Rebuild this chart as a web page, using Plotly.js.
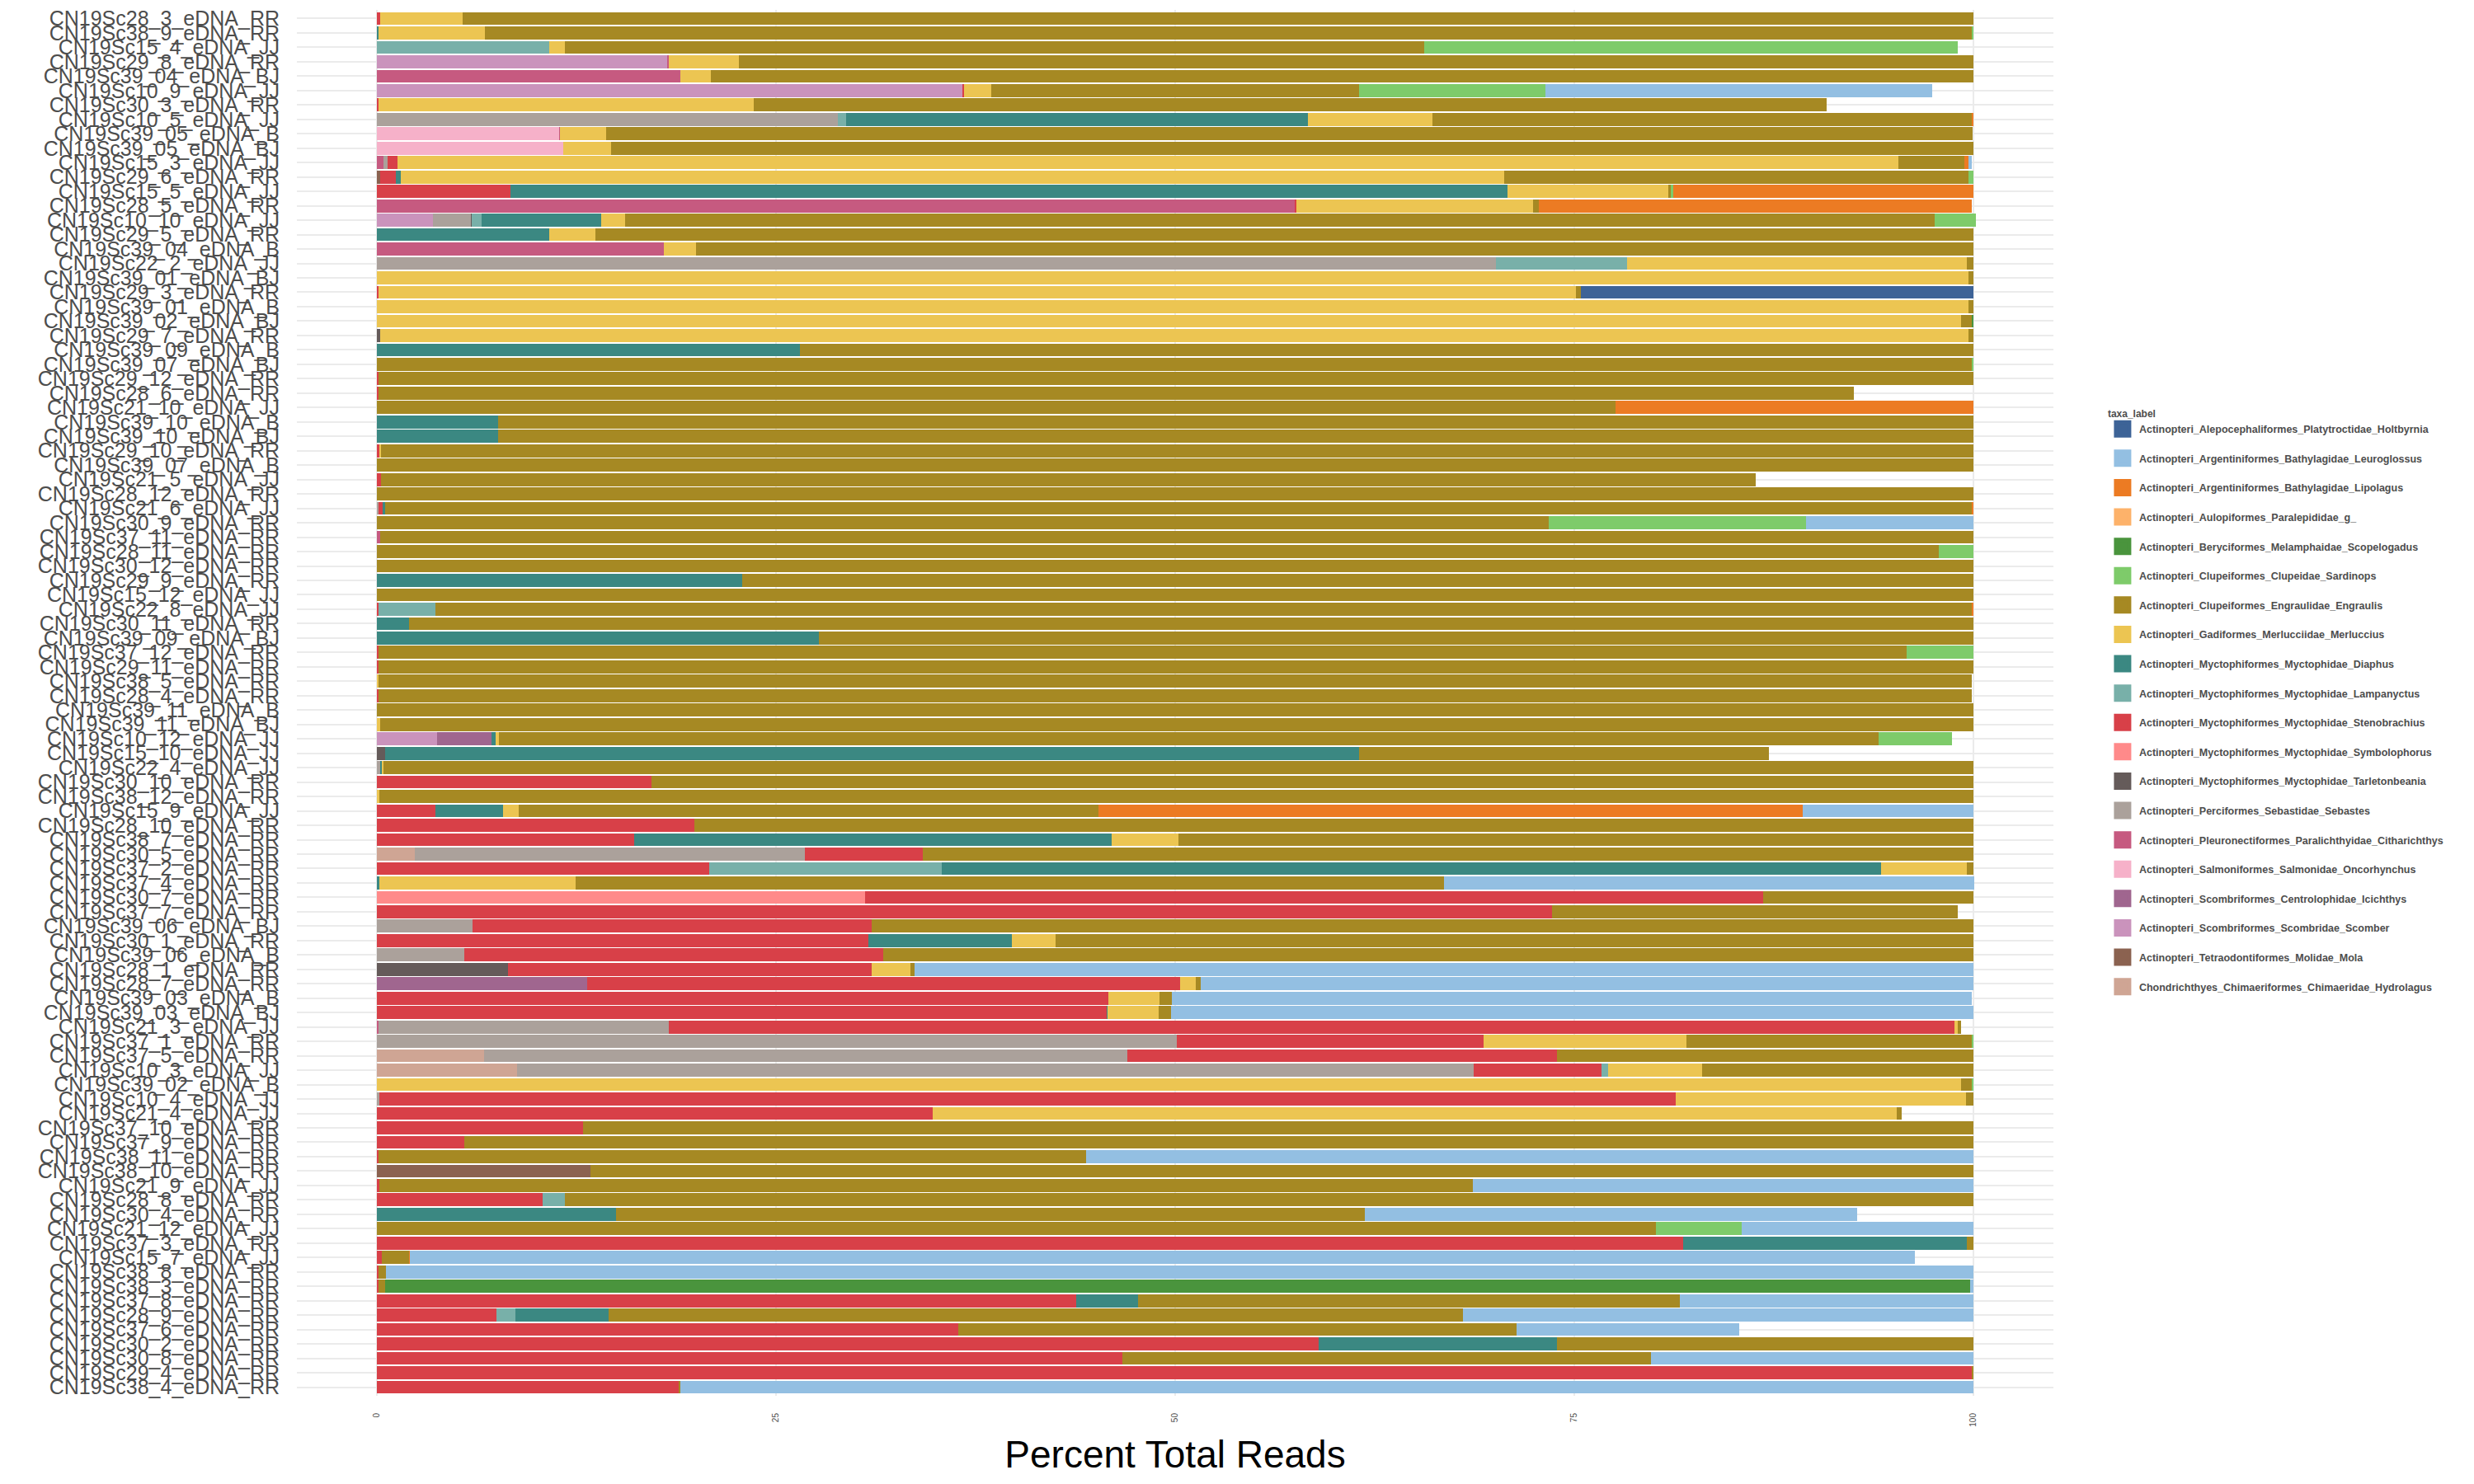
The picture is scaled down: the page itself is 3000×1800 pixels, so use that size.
<!DOCTYPE html>
<html>
<head>
<meta charset="utf-8">
<script src="https://cdn.plot.ly/plotly-3.0.1.min.js"></script>
<style>html,body{margin:0;padding:0;background:#fff;}#chart{width:3000px;height:1800px;}</style>
</head>
<body>
<div id="chart"></div>
<script>
// Sample labels, top to bottom
const samples = [
"CN19Sc28_3_eDNA_RR","CN19Sc38_9_eDNA_RR","CN19Sc15_4_eDNA_JJ","CN19Sc29_8_eDNA_RR","CN19Sc39_04_eDNA_BJ","CN19Sc10_9_eDNA_JJ","CN19Sc30_3_eDNA_RR","CN19Sc10_5_eDNA_JJ","CN19Sc39_05_eDNA_B","CN19Sc39_05_eDNA_BJ","CN19Sc15_3_eDNA_JJ","CN19Sc29_6_eDNA_RR",
"CN19Sc15_5_eDNA_JJ","CN19Sc28_5_eDNA_RR","CN19Sc10_10_eDNA_JJ","CN19Sc29_5_eDNA_RR","CN19Sc39_04_eDNA_B","CN19Sc22_2_eDNA_JJ","CN19Sc39_01_eDNA_BJ","CN19Sc29_3_eDNA_RR","CN19Sc39_01_eDNA_B","CN19Sc39_02_eDNA_BJ","CN19Sc29_7_eDNA_RR","CN19Sc39_09_eDNA_B",
"CN19Sc39_07_eDNA_BJ","CN19Sc29_12_eDNA_RR","CN19Sc28_6_eDNA_RR","CN19Sc21_10_eDNA_JJ","CN19Sc39_10_eDNA_B","CN19Sc39_10_eDNA_BJ","CN19Sc29_10_eDNA_RR","CN19Sc39_07_eDNA_B","CN19Sc21_5_eDNA_JJ","CN19Sc28_12_eDNA_RR","CN19Sc21_6_eDNA_JJ","CN19Sc30_9_eDNA_RR",
"CN19Sc37_11_eDNA_RR","CN19Sc28_11_eDNA_RR","CN19Sc30_12_eDNA_RR","CN19Sc29_9_eDNA_RR","CN19Sc15_12_eDNA_JJ","CN19Sc22_8_eDNA_JJ","CN19Sc30_11_eDNA_RR","CN19Sc39_09_eDNA_BJ","CN19Sc37_12_eDNA_RR","CN19Sc29_11_eDNA_RR","CN19Sc38_5_eDNA_RR","CN19Sc28_4_eDNA_RR",
"CN19Sc39_11_eDNA_B","CN19Sc39_11_eDNA_BJ","CN19Sc10_12_eDNA_JJ","CN19Sc15_10_eDNA_JJ","CN19Sc22_4_eDNA_JJ","CN19Sc30_10_eDNA_RR","CN19Sc38_12_eDNA_RR","CN19Sc15_9_eDNA_JJ","CN19Sc28_10_eDNA_RR","CN19Sc38_7_eDNA_RR","CN19Sc30_5_eDNA_RR","CN19Sc37_2_eDNA_RR",
"CN19Sc37_4_eDNA_RR","CN19Sc30_7_eDNA_RR","CN19Sc37_7_eDNA_RR","CN19Sc39_06_eDNA_BJ","CN19Sc30_1_eDNA_RR","CN19Sc39_06_eDNA_B","CN19Sc28_1_eDNA_RR","CN19Sc28_7_eDNA_RR","CN19Sc39_03_eDNA_B","CN19Sc39_03_eDNA_BJ","CN19Sc21_3_eDNA_JJ","CN19Sc37_1_eDNA_RR",
"CN19Sc37_5_eDNA_RR","CN19Sc10_3_eDNA_JJ","CN19Sc39_02_eDNA_B","CN19Sc10_4_eDNA_JJ","CN19Sc21_4_eDNA_JJ","CN19Sc37_10_eDNA_RR","CN19Sc37_9_eDNA_RR","CN19Sc38_11_eDNA_RR","CN19Sc38_10_eDNA_RR","CN19Sc21_9_eDNA_JJ","CN19Sc28_8_eDNA_RR","CN19Sc30_4_eDNA_RR",
"CN19Sc21_12_eDNA_JJ","CN19Sc37_3_eDNA_RR","CN19Sc15_7_eDNA_JJ","CN19Sc38_8_eDNA_RR","CN19Sc38_3_eDNA_RR","CN19Sc37_8_eDNA_RR","CN19Sc28_9_eDNA_RR","CN19Sc37_6_eDNA_RR","CN19Sc30_2_eDNA_RR","CN19Sc30_8_eDNA_RR","CN19Sc29_4_eDNA_RR","CN19Sc38_4_eDNA_RR"
];

// Percent total reads per taxon, one value per sample (same order as samples)
const holtbyrnia = [0,0,0,0,0,0,0,0,0,0,0,0, 0,0,0,0,0,0,0,24.6,0,0,0,0, 0,0,0,0,0,0,0,0,0,0,0,0, 0,0,0,0,0,0,0,0,0,0,0,0, 0,0,0,0,0,0,0,0,0,0,0,0, 0,0,0,0,0,0,0,0,0,0,0,0, 0,0,0,0,0,0,0,0,0,0,0,0, 0,0,0,0,0,0,0,0,0,0,0,0];
const leuroglossus = [0,0,0,0,0,24.2,0,0,0,0,0.2,0, 0,0,0,0,0,0,0,0,0,0,0,0, 0,0,0,0,0,0,0,0,0,0,0,10.5, 0,0,0,0,0,0,0,0,0,0,0,0, 0,0,0,0,0,0,0,10.7,0,0,0,0, 33.2,0,0,0,0,0,66.3,48.4,50.1,50.25,0,0, 0,0,0,0,0,0,0,55.6,0,31.35,0,30.8, 14.5,0,94.2,99.4,0.2,18.4,32.0,13.9,0,20.2,0,81.0];
const lipolagus = [0,0,0,0,0,0,0,0.1,0,0,0.3,0, 18.8,27.1,0,0,0,0,0,0,0,0,0,0, 0,0,0,22.4,0,0,0,0,0,0,0.1,0, 0,0,0,0,0,0.1,0,0,0,0,0,0, 0,0,0,0,0,0,0,44.1,0,0,0,0, 0,0,0,0,0,0,0,0,0,0,0,0, 0,0,0,0,0,0,0,0,0,0,0,0, 0,0,0.1,0,0,0,0,0,0,0,0,0];
const paralepididae = [0,0,0,0,0,0,0,0,0,0,0,0, 0,0,0,0,0,0,0,0,0,0,0,0, 0,0,0,0,0,0,0,0,0,0,0,0, 0,0,0,0,0,0,0,0,0,0,0,0, 0,0,0,0,0,0,0,0,0,0,0,0, 0,0,0,0,0,0,0,0,0,0,0,0, 0,0,0,0,0,0,0,0,0,0,0,0, 0,0,0,0,0,0,0,0,0,0,0,0];
const scopelogadus = [0,0,0,0,0,0,0,0,0,0,0,0, 0,0,0,0,0,0,0,0,0,0.1,0,0, 0,0,0,0,0,0,0,0,0,0,0,0, 0,0,0,0,0,0,0,0,0,0,0,0, 0,0,0,0,0,0,0,0,0,0,0,0, 0,0,0,0,0,0,0,0,0,0,0,0, 0,0,0,0,0,0,0,0,0,0,0,0, 0,0,0,0,99.3,0,0,0,0,0,0,0];
const sardinops = [0,0.1,33.4,0,0,11.7,0,0,0,0,0,0.3, 0.15,0,2.6,0,0,0,0,0,0,0,0,0, 0.1,0,0,0,0,0,0,0,0,0,0,16.1, 0,2.2,0,0,0,0,0,0,4.2,0,0,0, 0,0,4.6,0,0,0,0,0,0,0,0,0, 0,0,0,0,0,0,0,0,0,0,0,0.1, 0,0,0.1,0,0,0,0,0,0,0,0,0, 5.4,0,0,0,0,0,0,0,0,0,0,0];
const engraulis = [94.6,93.1,53.8,77.3,79.1,23.0,67.2,33.8,85.6,85.3,4.1,29.1, 0.15,0.4,82.0,86.3,80.0,0.4,0.3,0.3,0.3,0.7,0.3,73.5, 99.9,99.9,92.4,77.6,92.4,92.4,99.75,100,86.1,100,99.35,73.4, 99.8,97.8,100,77.1,100,96.2,98.0,72.3,95.7,99.9,99.8,99.8, 100,99.8,86.4,25.7,99.6,82.8,99.85,36.3,80.1,49.8,65.8,0.4, 54.4,13.2,25.4,69.0,57.5,68.3,0.3,0.3,0.8,0.8,0.2,17.9, 26.1,17.0,0.7,0.45,0.3,87.1,94.5,44.3,86.6,68.5,88.2,46.9, 80.1,0.4,1.7,0.5,0.4,33.9,53.5,35.0,26.1,33.1,0.1,0.1];
const merluccius = [5.2,6.7,1.0,4.4,1.9,1.7,23.5,7.8,2.9,3.0,94.0,69.1, 10.1,14.8,1.5,2.9,2.0,21.3,99.7,75.0,99.7,99.2,99.5,0, 0,0,0,0,0,0,0.1,0,0,0,0.05,0, 0,0,0,0,0,0,0,0,0,0,0.1,0, 0,0.2,0.2,0,0.1,0,0.15,1.0,0,4.2,0,5.4, 12.3,0,0,0,2.7,0,2.4,1.0,3.2,3.2,0.2,12.7, 0,5.9,99.2,18.2,60.4,0,0,0,0,0,0,0, 0,0,0,0,0,0,0,0,0,0,0,0];
const diaphus = [0,0.1,0,0,0,0,0,28.9,0,0,0,0.3, 62.4,0,7.5,10.8,0,0,0,0,0,0,0,26.5, 0,0,0,0,7.6,7.6,0,0,0,0,0.15,0, 0,0,0,22.9,0,0,2.0,27.7,0,0,0,0, 0,0,0.25,61.0,0.1,0,0,4.2,0,29.9,0,58.8, 0.15,0,0,0,9.0,0,0,0,0,0.05,0,0, 0,0,0,0,0,0,0,0,0,0,0,15.0, 0,17.8,0,0,0,3.9,5.8,0,14.9,0,0,0];
const lampanyctus = [0,0,10.8,0,0,0,0,0.5,0,0,0,0, 0,0,0.6,0,0,8.2,0,0,0,0,0,0, 0,0,0,0,0,0,0,0,0,0,0,0, 0,0,0,0,0,3.6,0,0,0,0,0,0, 0,0,0,0,0,0,0,0,0,0,0,14.6, 0,0,0,0,0,0,0,0,0,0,0,0, 0,0.4,0,0,0,0,0,0,0,0,1.4,0, 0,0,0,0,0,0,1.2,0,0,0,0,0];
const stenobrachius = [0.2,0,0,0,0,0.1,0.1,0,0,0,0.6,1.0, 8.4,0.1,0,0,0,0,0,0.1,0,0,0,0, 0,0.1,0.1,0,0,0,0.15,0,0.25,0,0.25,0, 0,0,0,0,0,0.1,0,0,0.1,0.1,0,0.1, 0,0,0,0,0,17.2,0,3.7,19.9,16.1,7.4,20.8, 0,56.2,73.6,25.0,30.8,26.2,22.8,37.1,45.8,45.7,80.5,19.2, 26.9,8.0,0,81.2,34.8,12.9,5.5,0.1,0,0.15,10.4,0, 0,81.8,0.3,0.1,0.1,43.8,7.5,36.4,59.0,46.7,99.9,18.9];
const symbolophorus = [0,0,0,0,0,0,0,0,0,0,0,0, 0,0,0,0,0,0,0,0,0,0,0,0, 0,0,0,0,0,0,0,0,0,0,0,0, 0,0,0,0,0,0,0,0,0,0,0,0, 0,0,0,0,0,0,0,0,0,0,0,0, 0,30.6,0,0,0,0,0,0,0,0,0,0, 0,0,0,0,0,0,0,0,0,0,0,0, 0,0,0,0,0,0,0,0,0,0,0,0];
const tarletonbeania = [0,0,0,0,0,0,0,0,0,0,0,0, 0,0,0.05,0,0,0,0,0,0,0,0.2,0, 0,0,0,0,0,0,0,0,0,0,0,0, 0,0,0,0,0,0,0,0,0,0,0,0, 0,0,0,0.5,0,0,0,0,0,0,0,0, 0,0,0,0,0,0,8.2,0,0,0,0,0, 0,0,0,0,0,0,0,0,0,0,0,0, 0,0,0,0,0,0,0,0,0,0,0,0];
const sebastes = [0,0,0,0,0,0,0,28.9,0,0,0.3,0, 0,0,2.4,0,0,70.1,0,0,0,0,0,0, 0,0,0,0,0,0,0,0,0,0,0.1,0, 0,0,0,0,0,0,0,0,0,0,0,0, 0,0,0,0,0.2,0,0,0,0,0,24.4,0, 0,0,0,6.0,0,5.5,0,0,0,0,18.2,50.1, 40.3,59.9,0,0.15,0,0,0,0,0,0,0,0, 0,0,0,0,0,0,0,0,0,0,0,0];
const citharichthys = [0,0,0,0.1,19.0,0,0,0,0.05,0,0.4,0, 0,57.5,0,0,18.0,0,0,0,0,0,0,0, 0,0,0,0,0,0,0,0,0,0,0,0, 0.2,0,0,0,0,0,0,0,0,0,0,0, 0,0,0,0,0,0,0,0,0,0,0,0, 0,0,0,0,0,0,0,0,0,0,0.1,0, 0,0,0,0,0,0,0,0,0,0,0,0, 0,0,0,0,0,0,0,0,0,0,0,0];
const oncorhynchus = [0,0,0,0,0,0,0,0,11.4,11.7,0,0, 0,0,0,0,0,0,0,0,0,0,0,0, 0,0,0,0,0,0,0,0,0,0,0,0, 0,0,0,0,0,0,0,0,0,0,0,0, 0,0,0,0,0,0,0,0,0,0,0,0, 0,0,0,0,0,0,0,0,0,0,0,0, 0,0,0,0,0,0,0,0,0,0,0,0, 0,0,0,0,0,0,0,0,0,0,0,0];
const icichthys = [0,0,0,0,0,0,0,0,0,0,0,0, 0,0,0,0,0,0,0,0,0,0,0,0, 0,0,0,0,0,0,0,0,0,0,0,0, 0,0,0,0,0,0,0,0,0,0,0,0, 0,0,3.4,0,0,0,0,0,0,0,0,0, 0,0,0,0,0,0,0,13.2,0,0,0,0, 0,0,0,0,0,0,0,0,0,0,0,0, 0,0,0,0,0,0,0,0,0,0,0,0];
const scomber = [0,0,0,18.2,0,36.7,0,0,0,0,0,0, 0,0,3.5,0,0,0,0,0,0,0,0,0, 0,0,0,0,0,0,0,0,0,0,0,0, 0,0,0,0,0,0,0,0,0,0,0,0, 0,0,3.8,0,0,0,0,0,0,0,0,0, 0,0,0,0,0,0,0,0,0,0,0,0, 0,0,0,0,0,0,0,0,0,0,0,0, 0,0,0,0,0,0,0,0,0,0,0,0];
const mola = [0,0,0,0,0,0,0,0,0,0,0,0.2, 0,0,0,0,0,0,0,0,0,0,0,0, 0,0,0,0,0,0,0,0,0,0,0,0, 0,0,0,0,0,0,0,0,0,0,0,0, 0,0,0,0,0,0,0,0,0,0,0,0, 0,0,0,0,0,0,0,0,0,0,0,0, 0,0,0,0,0,0,0,0,13.4,0,0,0, 0,0,0,0,0,0,0,0,0,0,0,0];
const hydrolagus = [0,0,0,0,0,0,0,0,0,0,0,0, 0,0,0,0,0,0,0,0,0,0,0,0, 0,0,0,0,0,0,0,0,0,0,0,0, 0,0,0,0,0,0,0,0,0,0,0,0, 0,0,0,0,0,0,0,0,0,0,2.4,0, 0,0,0,0,0,0,0,0,0,0,0,0, 6.7,8.8,0,0,0,0,0,0,0,0,0,0, 0,0,0,0,0,0,0,0,0,0,0,0];

// Legend labels (legend order, top to bottom)
const taxaLabels = [
"Actinopteri_Alepocephaliformes_Platytroctidae_Holtbyrnia",
"Actinopteri_Argentiniformes_Bathylagidae_Leuroglossus",
"Actinopteri_Argentiniformes_Bathylagidae_Lipolagus",
"Actinopteri_Aulopiformes_Paralepididae_g_",
"Actinopteri_Beryciformes_Melamphaidae_Scopelogadus",
"Actinopteri_Clupeiformes_Clupeidae_Sardinops",
"Actinopteri_Clupeiformes_Engraulidae_Engraulis",
"Actinopteri_Gadiformes_Merlucciidae_Merluccius",
"Actinopteri_Myctophiformes_Myctophidae_Diaphus",
"Actinopteri_Myctophiformes_Myctophidae_Lampanyctus",
"Actinopteri_Myctophiformes_Myctophidae_Stenobrachius",
"Actinopteri_Myctophiformes_Myctophidae_Symbolophorus",
"Actinopteri_Myctophiformes_Myctophidae_Tarletonbeania",
"Actinopteri_Perciformes_Sebastidae_Sebastes",
"Actinopteri_Pleuronectiformes_Paralichthyidae_Citharichthys",
"Actinopteri_Salmoniformes_Salmonidae_Oncorhynchus",
"Actinopteri_Scombriformes_Centrolophidae_Icichthys",
"Actinopteri_Scombriformes_Scombridae_Scomber",
"Actinopteri_Tetraodontiformes_Molidae_Mola",
"Chondrichthyes_Chimaeriformes_Chimaeridae_Hydrolagus"
];
const taxaValues = [holtbyrnia, leuroglossus, lipolagus, paralepididae, scopelogadus, sardinops, engraulis, merluccius, diaphus, lampanyctus, stenobrachius, symbolophorus, tarletonbeania, sebastes, citharichthys, oncorhynchus, icichthys, scomber, mola, hydrolagus];
const taxaColors = ["#3D6397","#93BFE2","#EC7B23","#FDB26A","#4A943D","#7ECB6A","#A68923","#ECC552","#3B8882","#78B0A9","#D84048","#FF8A8A","#655B5A","#ABA19B","#C65A80","#F6B1C9","#A0668F","#CA93BC","#8B6250","#CFA594"];

const FONT = "Liberation Sans, Arial, Helvetica, sans-serif";

const traces = [];
// Stacked bars: last level at the left, first level at the right (as in ggplot)
for (let k = taxaLabels.length - 1; k >= 0; k--) {
  traces.push({
    type: "bar",
    orientation: "h",
    name: taxaLabels[k],
    x: taxaValues[k],
    y: samples,
    marker: {color: taxaColors[k], line: {width: 0}},
    showlegend: false,
    hoverinfo: "skip"
  });
}
// Legend keys (square swatches, no data points)
for (let k = 0; k < taxaLabels.length; k++) {
  traces.push({
    type: "scatter",
    mode: "markers",
    name: taxaLabels[k],
    x: [null], y: [null],
    marker: {symbol: "square", size: 16, color: taxaColors[k], line: {width: 5, color: taxaColors[k]}},
    legendgroup: "g" + k,
    legendrank: k + 1,
    showlegend: true,
    hoverinfo: "skip"
  });
}

const layout = {
  width: 3000, height: 1800,
  margin: {l: 360, r: 510, t: 12, b: 107, pad: 0},
  paper_bgcolor: "#ffffff", plot_bgcolor: "#ffffff",
  barmode: "stack", bargap: 0.1,
  font: {family: FONT, color: "#4D4D4D"},
  xaxis: {
    range: [-5, 105], tickmode: "array",
    tickvals: [0, 25, 50, 75, 100], ticktext: ["0", "25", "50", "75", "100"],
    tickangle: -90, tickfont: {family: FONT, size: 10, color: "#4D4D4D"},
    ticks: "", ticklabelstandoff: 18,
    showgrid: true, gridcolor: "#EBEBEB", gridwidth: 2,
    zeroline: false, showline: false, automargin: false,
    title: {text: "Percent Total Reads", font: {family: FONT, size: 46, color: "#000000"}, standoff: 18}
  },
  yaxis: {
    type: "category", categoryorder: "array", categoryarray: samples,
    range: [samples.length - 0.4, -0.6],
    tickmode: "array", tickvals: samples, ticktext: samples,
    tickfont: {family: FONT, size: 25, color: "#4D4D4D"},
    ticks: "", ticklabelstandoff: 20,
    showgrid: true, gridcolor: "#EBEBEB", gridwidth: 2,
    zeroline: false, showline: false, automargin: false
  },
  showlegend: true,
  legend: {
    xref: "container", yref: "container",
    x: 0.8513, y: 1 - 490 / 1800, xanchor: "left", yanchor: "top",
    traceorder: "grouped", tracegroupgap: 16.35,
    font: {family: FONT, size: 12.5, color: "#4D4D4D", weight: "bold"},
    title: {text: "taxa_label", font: {family: FONT, size: 12, color: "#4D4D4D", weight: "bold"}},
    bgcolor: "rgba(0,0,0,0)", itemwidth: 30, itemsizing: "trace"
  }
};

Plotly.newPlot("chart", traces, layout, {staticPlot: true, displayModeBar: false});
</script>
</body>
</html>
